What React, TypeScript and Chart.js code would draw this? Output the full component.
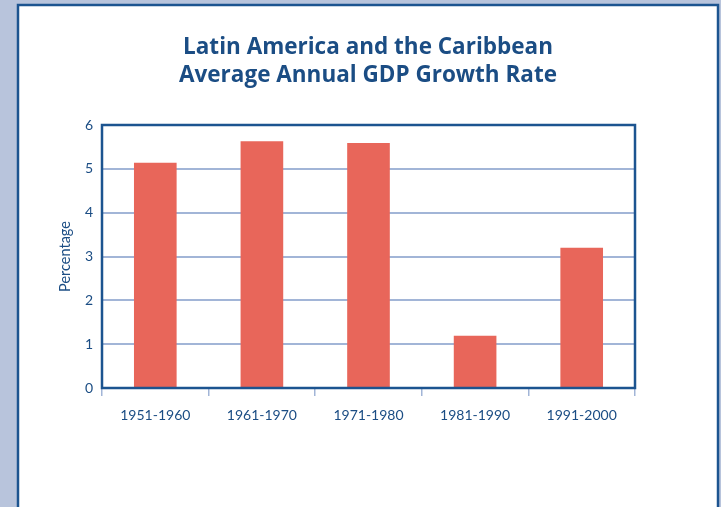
import React, { useEffect, useRef } from "react";
import { Chart, registerables } from "chart.js";

Chart.register(...registerables);

const categories = ["1951-1960", "1961-1970", "1971-1980", "1981-1990", "1991-2000"];
const growthRates = [5.14, 5.63, 5.59, 1.19, 3.2];
const titleLines = ["Latin America and the Caribbean", "Average Annual GDP Growth Rate"];
const yAxisLabel = "Percentage";

const DARK = "#1c5490";
const TEXT = "#1b4d84";
const GRID = "#a2b5d7";
const BAR = "#e8665a";
const PAGE_BG = "#b8c4dc";

const framePlugin = {
  id: "framePlugin",
  beforeDraw(chart: any) {
    const { ctx, width, height } = chart;
    ctx.save();
    ctx.fillStyle = PAGE_BG;
    ctx.fillRect(0, 0, width, height);
    ctx.fillStyle = "#ffffff";
    ctx.fillRect(18, 5, 700, height);
    ctx.strokeStyle = DARK;
    ctx.lineWidth = 2.5;
    ctx.strokeRect(18, 5, 700, height + 10);
    ctx.restore();
  },
  afterDatasetsDraw(chart: any) {
    const { ctx, chartArea } = chart;
    ctx.save();
    ctx.strokeStyle = DARK;
    ctx.lineWidth = 2.5;
    ctx.strokeRect(chartArea.left, chartArea.top, chartArea.right - chartArea.left, chartArea.bottom - chartArea.top);
    ctx.restore();
  },
  afterDraw(chart: any) {
    const { ctx } = chart;
    ctx.save();
    ctx.fillStyle = TEXT;
    ctx.font = "bold 22.5px 'Open Sans'";
    ctx.textAlign = "center";
    ctx.textBaseline = "alphabetic";
    titleLines.forEach((line, i) => {
      ctx.fillText(line, 368, 54 + i * 27.5);
    });
    ctx.restore();
  },
};

export default function App() {
  const ref = useRef<HTMLCanvasElement>(null);
  useEffect(() => {
    if (!ref.current) return;
    const chart = new Chart(ref.current, {
      type: "bar",
      data: {
        labels: categories,
        datasets: [
          {
            data: growthRates,
            backgroundColor: BAR,
            borderWidth: 0,
            categoryPercentage: 1,
            barPercentage: 0.4,
          },
        ],
      },
      options: {
        animation: false,
        responsive: true,
        maintainAspectRatio: false,
        layout: { padding: { left: 53, right: 86, top: 125, bottom: 79 } },
        plugins: {
          legend: { display: false },
          tooltip: { enabled: false },
          title: { display: false },
        },
        scales: {
          x: {
            grid: {
              display: true,
              drawOnChartArea: false,
              drawTicks: true,
              tickLength: 8,
              color: GRID,
              lineWidth: 1.5,
            },
            border: { display: false },
            ticks: {
              color: TEXT,
              font: { family: "Lato", size: 14 },
              padding: 11,
            },
            afterFit(scale: any) {
              scale.height = 40;
            },
          },
          y: {
            min: 0,
            max: 6,
            ticks: {
              stepSize: 1,
              color: TEXT,
              font: { family: "Lato", size: 14 },
              padding: 9,
            },
            grid: {
              color: GRID,
              lineWidth: 2,
              drawTicks: false,
            },
            border: { display: false },
            title: {
              display: true,
              text: yAxisLabel,
              color: TEXT,
              font: { family: "Lato", size: 14.5 },
              padding: { top: 4, bottom: 0 },
            },
            afterFit(scale: any) {
              scale.width = 49;
            },
          },
        },
      },
      plugins: [framePlugin],
    });
    return () => chart.destroy();
  }, []);
  return (
    <div style={{ position: "fixed", left: 0, top: 0, width: 721, height: 507 }}>
      <canvas ref={ref} />
    </div>
  );
}
